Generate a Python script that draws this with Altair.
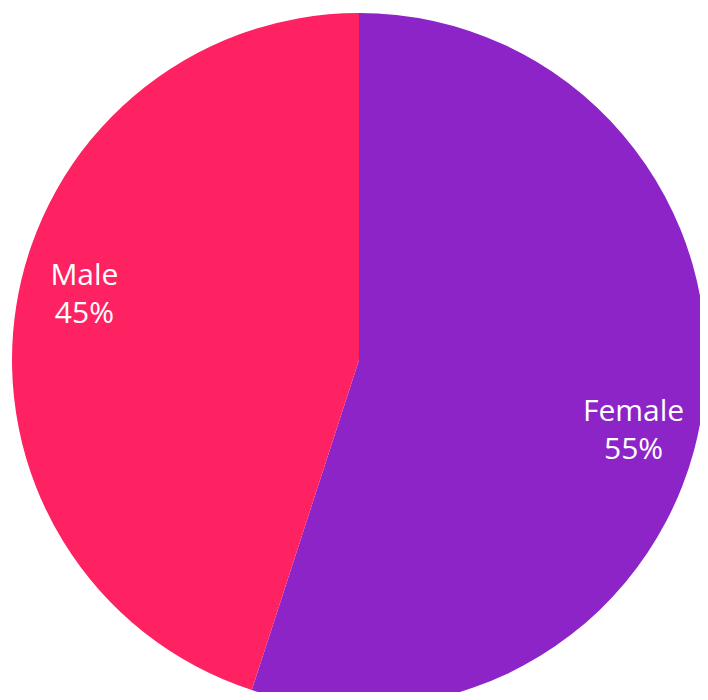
import altair as alt
import pandas as pd

categories = ["Female", "Male"]
values = [55, 45]
labels = ["Female\n55%", "Male\n45%"]
colors = ["#8D24C8", "#FE2262"]
order = [0, 1]

df = pd.DataFrame({"category": categories, "value": values, "label": labels, "order": order})

base = alt.Chart(df)

pie = base.mark_arc(outerRadius=347, stroke=None).encode(
    theta=alt.Theta("value:Q", stack=True),
    color=alt.Color("category:N", scale=alt.Scale(domain=categories, range=colors), legend=None),
    order=alt.Order("order:Q"),
)

text = base.mark_text(
    radius=283,
    font="Open Sans",
    fontSize=30,
    lineHeight=38,
    lineBreak="\n",
    color="white",
    align="center",
    baseline="middle",
    dy=-16,
).encode(
    theta=alt.Theta("value:Q", stack=True, scale=alt.Scale(range=[0.0873, 6.3705])),
    text="label:N",
    order=alt.Order("order:Q"),
)

chart = alt.layer(pie, text).resolve_scale(theta="independent").properties(
    width=682, height=656,
    padding={"left": 10, "top": 24, "right": 0, "bottom": 4},
    autosize=alt.AutoSizeParams(type="none"),
).configure_view(stroke=None)

chart.save("out.html", embed_options={"renderer": "svg", "actions": False})
